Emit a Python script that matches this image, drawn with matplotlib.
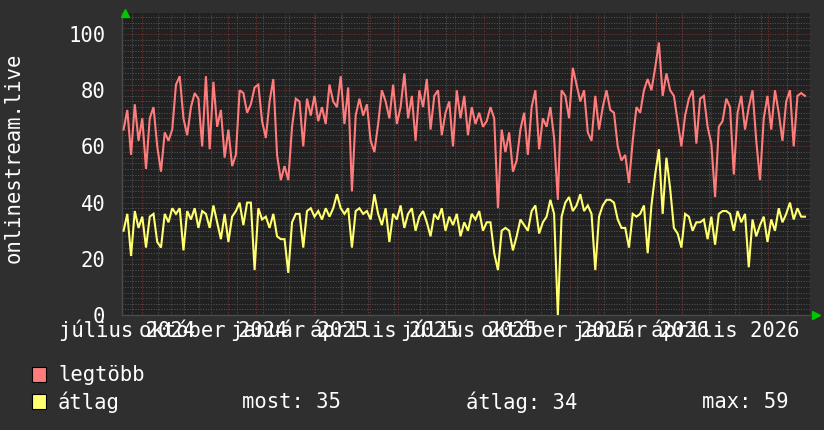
import matplotlib
matplotlib.use('Agg')
import matplotlib.pyplot as plt
import matplotlib.dates as mdates
import numpy as np
import pandas as pd

# samples every 4 days starting here
start = '2024-07-12'
step_days = 4

max_vals = [
    66, 73, 57, 75, 62, 70, 52, 70, 74, 60, 51, 65, 62, 66, 82, 85, 70, 64, 74, 79,
    77, 60, 85, 59, 83, 67, 73, 56, 66, 53, 57, 80, 79, 72, 75, 81, 82, 69, 63, 76,
    84, 57, 48, 53, 48, 67, 77, 76, 60, 77, 71, 78, 69, 74, 68, 82, 76, 74, 85, 68,
    81, 44, 71, 77, 71, 75,
    62, 58, 68, 80, 76, 70, 82, 68, 74, 86, 70, 78, 62, 80, 74, 84, 66, 78, 80, 64,
    72, 76, 60, 80, 70, 78, 64, 74, 68, 72,
    67, 69, 74, 70, 38, 66, 58, 65, 51, 55, 66, 72, 57, 74, 80, 59, 70, 67, 74, 63,
    41, 80, 78, 70, 88, 82, 76, 80, 65, 62, 78, 66, 74, 80, 73, 72, 60, 55, 57, 47,
    62, 74, 72, 80, 84, 80, 88, 97, 78, 86, 80, 78, 69, 60, 71, 77, 80, 61, 77, 78,
    67, 61, 42, 67, 69, 77,
    74, 50, 72, 78, 66, 74, 80, 62, 48, 70, 78, 66, 80, 72, 62, 76, 80, 60, 78, 79,
    78,
]

avg_vals = [
    30, 36, 21, 37, 31, 35, 24, 35, 36, 26, 24, 36, 33, 38, 36, 38, 23, 37, 34, 38,
    31, 37, 36, 31, 39, 33, 27, 36, 26, 35, 37, 40, 32, 40, 40, 16, 38, 34, 35, 31,
    36, 28, 27, 27, 15, 33, 36, 36, 24, 37, 38, 35, 37, 34, 38, 35, 38, 43, 38, 36,
    38, 24, 37, 38, 36, 37,
    34, 43, 36, 32, 38, 26, 36, 34, 39, 31, 36, 38, 30, 35, 37, 33, 28, 36, 34, 38,
    30, 35, 32, 36, 28, 33, 30, 36, 34, 37,
    30, 33, 33, 22, 16, 30, 31, 30, 23, 28, 34, 32, 30, 37, 39, 29, 33, 35, 41, 36,
    0, 35, 40, 42, 37, 39, 43, 37, 39, 36, 16, 35, 39, 41, 41, 40, 34, 31, 31, 24,
    36, 35, 36, 39, 22, 39, 50, 59, 36, 56, 45, 31, 29, 24, 36, 35, 30, 33, 33, 34,
    27, 35, 25, 36, 37, 37,
    36, 30, 37, 33, 36, 17, 34, 28, 32, 35, 26, 34, 30, 38, 33, 36, 40, 34, 38, 35,
    35,
]

label_months = ['2024-07', '2024-10', '2025-01', '2025-04',
                '2025-07', '2025-10', '2026-01', '2026-04']
label_texts = ['július 2024', 'október 2024', 'január 2025', 'április 2025',
               'július 2025', 'október 2025', 'január 2026', 'április 2026']
y_ticks = [0, 20, 40, 60, 80, 100]
series_names = ['legtöbb', 'átlag']
avg_stats = ['most: 35', 'átlag: 34', 'max: 59']
y_title = 'onlinestream.live'

bg = '#2f2f2f'
plot_bg = '#212121'
red = '#ff7c7c'
yellow = '#ffff70'
minor_col = '#555555'
major_col = '#7a3434'
font = 'DejaVu Sans Mono'
fs = 14.8

dates = pd.date_range(start, periods=len(max_vals), freq=f'{step_days}D')
xd = mdates.date2num(dates)

fig = plt.figure(figsize=(8.24, 4.30), dpi=100, facecolor=bg)
W, H = 824, 430
ax = fig.add_axes([122 / W, 115 / H, 688 / W, 302 / H])
ax.set_facecolor(plot_bg)

x0 = mdates.date2num(pd.Timestamp('2024-07-10 08:00'))
x1 = mdates.date2num(pd.Timestamp('2026-07-15 10:00'))
ax.set_xlim(x0, x1)
ax.set_ylim(0, 107.5)

dots = (0, (1, 1.6))
# horizontal grid
for v in np.arange(2, 108, 2):
    if v % 20 == 0:
        continue
    ax.axhline(v, color=minor_col, lw=0.72, ls=dots, zorder=1)
for v in y_ticks[1:]:
    ax.axhline(v, color=major_col, lw=0.72, ls=dots, zorder=1.5)
# vertical grid
minor_days = pd.date_range('2024-07-21', '2026-07-15', freq='28D')
for d in mdates.date2num(minor_days):
    ax.axvline(d, color=minor_col, lw=0.72, ls=dots, zorder=1)
major_days = pd.date_range('2024-08-01', '2026-07-15', freq='MS')
for d in mdates.date2num(major_days):
    ax.axvline(d, color=major_col, lw=0.72, ls=dots, zorder=1.5)

ax.plot(xd, max_vals, color=red, lw=1.5, zorder=3, solid_joinstyle='miter')
ax.plot(xd, avg_vals, color=yellow, lw=1.5, zorder=4, solid_joinstyle='miter')

for s in ['top', 'right']:
    ax.spines[s].set_visible(False)
for s in ['left', 'bottom']:
    ax.spines[s].set_color('#4a4a4a')
    ax.spines[s].set_linewidth(1)

ax.set_yticks(y_ticks)
ax.set_yticklabels([str(v) for v in y_ticks])
ax.set_xticks([])
ax.tick_params(axis='both', length=0, colors='white', labelsize=fs)
ax.tick_params(axis='y', pad=12)
for t in ax.get_yticklabels():
    t.set_fontfamily(font)

# month labels centred on the middle of the month, all on one baseline
label_pos = [mdates.date2num(pd.Timestamp(m + '-16')) for m in label_months]
base_y = (315 - 337) / 302
for xp, txt in zip(label_pos, label_texts):
    ax.text(xp, base_y, txt, transform=ax.get_xaxis_transform(), color='white',
            fontsize=fs, family=font, ha='center', va='baseline', clip_on=False)

fig.text(14 / W, 1 - 158 / H, y_title, rotation=90, color='white', fontsize=fs,
         family=font, ha='center', va='center')

# axis arrows
ax.plot([0.004], [1.0], marker='^', color='#00c800', ms=6, transform=ax.transAxes,
        clip_on=False, zorder=6)
ax.plot([1.008], [0.0], marker='>', color='#00c800', ms=6, transform=ax.transAxes,
        clip_on=False, zorder=6)

# legend
rows = [1 - 375 / H, 1 - 402 / H]
for name, col, yy in zip(series_names, [red, yellow], rows):
    fig.patches.append(plt.Rectangle((32 / W, yy - 7 / H), 14 / W, 15 / H,
                                     transform=fig.transFigure, facecolor=col,
                                     edgecolor='black', lw=0.8))
    fig.text(58 / W, yy, name, color='white', fontsize=fs, family=font,
             ha='left', va='center')
for txt, xx in zip(avg_stats, [242, 466, 702]):
    fig.text(xx / W, rows[1], txt, color='white', fontsize=fs, family=font,
             ha='left', va='center')

fig.savefig('out.png', dpi=100, facecolor=bg)
